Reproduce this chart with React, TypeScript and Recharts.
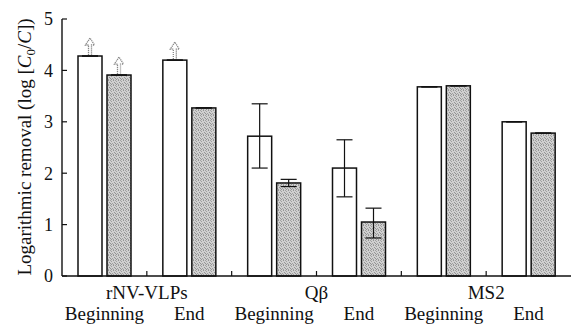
import React from 'react';
import { BarChart, Bar, XAxis, YAxis, ErrorBar } from 'recharts';

// virus / phase labels for each category on the x axis
const GROUPS = ['rNV-VLPs', 'rNV-VLPs', 'Qβ', 'Qβ', 'MS2', 'MS2'];
const PHASES = ['Beginning', 'End', 'Beginning', 'End', 'Beginning', 'End'];

// log removal, open bars and stippled bars
const OPEN_VALUES = [4.28, 4.2, 2.72, 2.1, 3.68, 3.0];
const GRAY_VALUES = [3.91, 3.27, 1.81, 1.05, 3.7, 2.78];

// [minus, plus] error
const OPEN_ERR = [[0, 0], [0, 0], [0.62, 0.63], [0.56, 0.55], [0, 0], [0, 0]];
const GRAY_ERR = [[0, 0], [0, 0], [0.07, 0.07], [0.31, 0.27], [0, 0], [0, 0]];

// values that are lower bounds (arrow above the bar)
const OPEN_ARROW = [true, true, false, false, false, false];
const GRAY_ARROW = [true, false, false, false, false, false];

const Y_TICKS = [0, 1, 2, 3, 4, 5];

const W = 571;
const H = 326;
const LEFT = 62;
const PLOT_W = W - LEFT;
const FONT = '"Liberation Serif", "Times New Roman", serif';
const txt = { fontFamily: FONT };

// speckle positions for the grey fill (5x5 tile)
const SPECKLES = [[0, 0], [3, 0], [1, 1], [4, 2], [2, 3], [0, 3], [3, 4], [1, 4]];

const data = PHASES.map((phase, i) => ({
  name: `${GROUPS[i]} ${phase}`,
  group: GROUPS[i],
  phase,
  open: OPEN_VALUES[i],
  gray: GRAY_VALUES[i],
  openErr: OPEN_ERR[i],
  grayErr: GRAY_ERR[i],
  openArrow: OPEN_ARROW[i],
  grayArrow: GRAY_ARROW[i],
}));

const Arrow = ({ cx, y }: { cx: number; y: number }) => {
  const top = y - 18;
  const d = `M${cx - 1.5},${y - 1} L${cx - 1.5},${top + 7} L${cx - 4.5},${top + 7} L${cx},${top} L${cx + 4.5},${top + 7} L${cx + 1.5},${top + 7} L${cx + 1.5},${y - 1}`;
  return <path d={d} fill="none" stroke="#888" strokeWidth={1.3} strokeDasharray="1.2 0.8" />;
};

const makeShape = (arrowKey: 'openArrow' | 'grayArrow', fill: string) => (props: any) => {
  const { x, y, width, height, payload } = props;
  return (
    <g>
      <rect x={x} y={y} width={width} height={height} fill={fill} stroke="#111" strokeWidth={1.5} />
      {payload[arrowKey] && <Arrow cx={x + width / 2} y={y} />}
    </g>
  );
};

const YTick = (props: any) => {
  const { x, y, payload } = props;
  return (
    <g>
      <line x1={x} y1={y} x2={x + 5} y2={y} stroke="#111" strokeWidth={1.2} />
      <text x={x - 9} y={y} dy="0.35em" textAnchor="end" fontSize={18} style={txt} fill="#111">
        {payload.value}
      </text>
    </g>
  );
};

const XTick = (props: any) => {
  const { x, y, index } = props;
  const bw = PLOT_W / PHASES.length;
  const row = data[index];
  return (
    <g>
      {index < PHASES.length - 1 && (
        <line x1={x + bw / 2} y1={y} x2={x + bw / 2} y2={y - 5} stroke="#111" strokeWidth={1.2} />
      )}
      {row.phase === 'Beginning' && (
        <text x={x + bw / 2} y={y + 23} textAnchor="middle" fontSize={19} style={txt} fill="#111">
          {row.group}
        </text>
      )}
      <text x={x} y={y + 44} textAnchor="middle" fontSize={19} style={txt} fill="#111">
        {row.phase}
      </text>
    </g>
  );
};

const YLabel = () => (
  <text transform="translate(31, 147) rotate(-90)" textAnchor="middle" fontSize={19} style={txt} fill="#111">
    Logarithmic removal (log [<tspan fontStyle="italic">C</tspan>
    <tspan fontSize={13} dy={4}>0</tspan>
    <tspan dy={-4}>/</tspan>
    <tspan fontStyle="italic">C</tspan>])
  </text>
);

export default function App() {
  return (
    <div style={{ position: 'fixed', left: 0, top: 0, width: W, height: H, background: '#fff', fontFamily: FONT }}>
      <BarChart
        width={W}
        height={H}
        data={data}
        margin={{ top: 19, right: 0, bottom: 0, left: 0 }}
        barCategoryGap={16}
        barGap={5}
        barSize={24}
      >
        <defs>
          <pattern id="stipple" width="5" height="5" patternUnits="userSpaceOnUse">
            <rect width="5" height="5" fill="#d0d0d0" />
            {SPECKLES.map(([sx, sy], k) => (
              <rect key={k} x={sx} y={sy} width="1" height="1" fill={k % 2 ? '#939393' : '#a0a0a0'} />
            ))}
          </pattern>
        </defs>
        <XAxis
          dataKey="name"
          height={50}
          tickLine={false}
          tickSize={0}
          tickMargin={0}
          interval={0}
          axisLine={{ stroke: '#111', strokeWidth: 1.4 }}
          tick={<XTick />}
        />
        <YAxis
          width={LEFT}
          domain={[0, 5]}
          ticks={Y_TICKS}
          tickLine={false}
          tickSize={0}
          tickMargin={0}
          axisLine={{ stroke: '#111', strokeWidth: 1.4 }}
          tick={<YTick />}
          label={<YLabel />}
        />
        <Bar dataKey="open" fill="#fff" isAnimationActive={false} shape={makeShape('openArrow', '#fff')}>
          <ErrorBar dataKey="openErr" width={8} stroke="#111" strokeWidth={1.2} />
        </Bar>
        <Bar dataKey="gray" fill="url(#stipple)" isAnimationActive={false} shape={makeShape('grayArrow', 'url(#stipple)')}>
          <ErrorBar dataKey="grayErr" width={8} stroke="#111" strokeWidth={1.2} />
        </Bar>
      </BarChart>
    </div>
  );
}
